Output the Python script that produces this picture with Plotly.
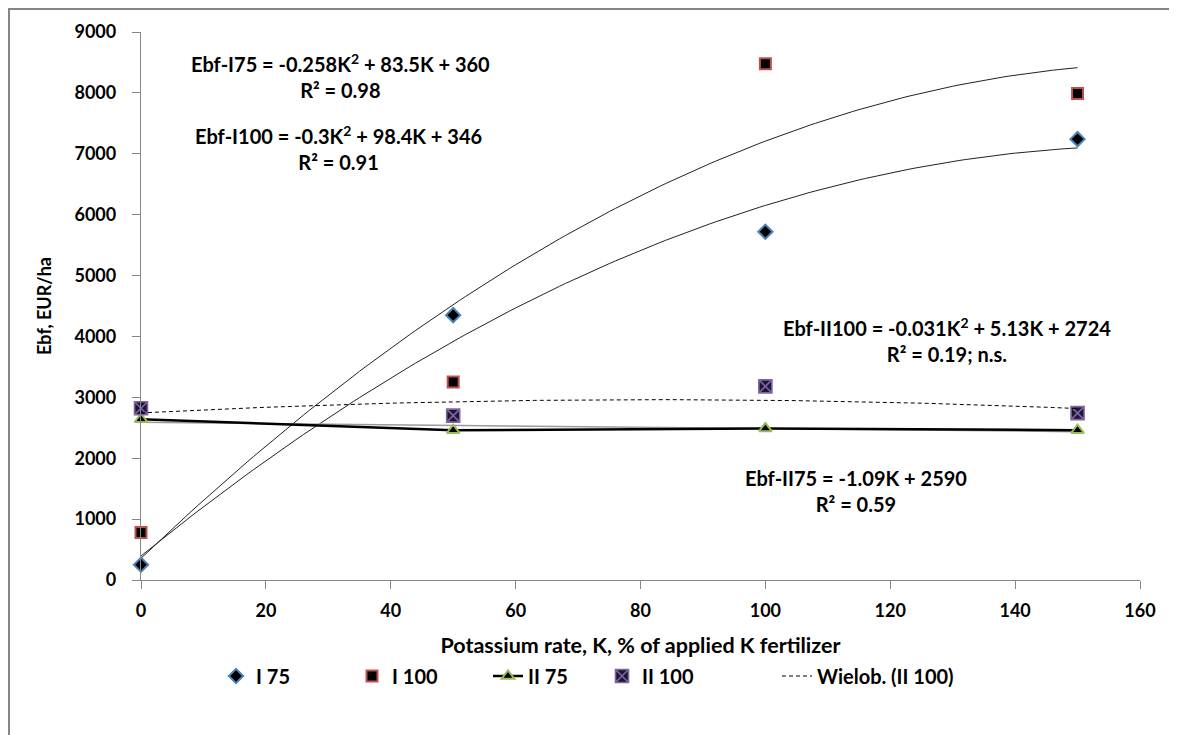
import numpy as np
import plotly.graph_objects as go

# ---- data ----
k_rates = [0, 50, 100, 150]
i75 = [250, 4350, 5720, 7240]
i100 = [780, 3250, 8480, 7990]
ii75 = [2640, 2460, 2490, 2460]
ii100 = [2820, 2700, 3180, 2740]

x_ticks = [0, 20, 40, 60, 80, 100, 120, 140, 160]
y_ticks = [0, 1000, 2000, 3000, 4000, 5000, 6000, 7000, 8000, 9000]

eq_i75 = ["Ebf-I75 = -0.258K<sup>2</sup> + 83.5K + 360", "R² = 0.98"]
eq_i100 = ["Ebf-I100 = -0.3K<sup>2</sup> + 98.4K + 346", "R² = 0.91"]
eq_ii100 = ["Ebf-II100 = -0.031K<sup>2</sup> + 5.13K + 2724", "R² = 0.19; n.s."]
eq_ii75 = ["Ebf-II75 = -1.09K + 2590", "R² = 0.59"]

FONT = "Lato"
GREY = "#868686"

# page geometry (browser body has an 8px margin)
PAGE_OFF = 8
PLOT_L, PLOT_R, PLOT_T, PLOT_B = 141, 1140, 32, 580   # plot area in page px
W, H = 1177, 735


def px_to_paper_x(px):
    return (px - PLOT_L) / (PLOT_R - PLOT_L)


def px_to_paper_y(py):
    return (PLOT_B - py) / (PLOT_B - PLOT_T)


# trend lines fitted to the data (as the spreadsheet does)
xs = np.linspace(min(k_rates), max(k_rates), 151)
fit_i75 = np.polyval(np.polyfit(k_rates, i75, 2), xs)
fit_i100 = np.polyval(np.polyfit(k_rates, i100, 2), xs)
fit_ii75 = np.polyval(np.polyfit(k_rates, ii75, 1), xs)
fit_ii100 = np.polyval(np.polyfit(k_rates, ii100, 2), xs)

fig = go.Figure()

fig.add_trace(go.Scatter(x=xs, y=fit_i75, mode="lines", line=dict(color="#222222", width=1),
                         showlegend=False, hoverinfo="skip"))
fig.add_trace(go.Scatter(x=xs, y=fit_i100, mode="lines", line=dict(color="#222222", width=1),
                         showlegend=False, hoverinfo="skip"))
fig.add_trace(go.Scatter(x=xs, y=fit_ii75, mode="lines", line=dict(color="#9a9a9a", width=1.5),
                         showlegend=False, hoverinfo="skip"))

fig.add_trace(go.Scatter(
    x=k_rates, y=i75, mode="markers", name="I 75", cliponaxis=False, legend="legend",
    marker=dict(symbol="diamond", size=11, color="black", line=dict(color="#4F81BD", width=2))))
fig.add_trace(go.Scatter(
    x=k_rates, y=i100, mode="markers", name="I 100", cliponaxis=False, legend="legend2",
    marker=dict(symbol="square", size=11, color="black", line=dict(color="#C0504D", width=2))))
fig.add_trace(go.Scatter(
    x=k_rates, y=ii75, mode="lines+markers", name="II 75", cliponaxis=False, legend="legend3",
    line=dict(color="black", width=2.5),
    marker=dict(symbol="triangle-up", size=11, color="black", line=dict(color="#9BBB59", width=2))))
fig.add_trace(go.Scatter(
    x=k_rates, y=ii100, mode="markers", name="II 100", cliponaxis=False, legend="legend4",
    marker=dict(symbol="square-x", size=13, color="#1e1630", line=dict(color="#8064A2", width=1.6))))
fig.add_trace(go.Scatter(
    x=xs, y=fit_ii100, mode="lines", name="Wielob. (II 100)", legend="legend5",
    line=dict(color="black", width=1, dash="4px,3px"), hoverinfo="skip"))

ann_font = dict(family=FONT, size=20, color="black", weight="bold")


def eq_annotation(lines, x, y):
    fig.add_annotation(x=x, y=y, xref="x", yref="y", text="<br>".join(lines),
                       showarrow=False, align="center", font=ann_font,
                       xanchor="center", yanchor="middle")


eq_annotation(eq_i75, 32.0, 8277)
eq_annotation(eq_i100, 31.6, 7095)
eq_annotation(eq_ii100, 129.1, 3942)
eq_annotation(eq_ii75, 114.5, 1462)

axis_common = dict(showline=True, linecolor=GREY, linewidth=1.3, ticks="outside",
                   tickcolor=GREY, ticklen=8, showgrid=False, zeroline=False,
                   tickfont=dict(family=FONT, size=18, color="black", weight="bold"))

legend_font = dict(family=FONT, size=20, color="black", weight="bold")
legend_y = px_to_paper_y(676)
# symbol centres of legend entries in page px
legend_centres = [236, 372, 508, 622, 797]
legends = {}
for i, cx in enumerate(legend_centres):
    key = "legend" if i == 0 else f"legend{i + 1}"
    legends[key] = dict(orientation="h", x=px_to_paper_x(cx - 20), xanchor="left",
                        y=legend_y, yanchor="middle", font=legend_font,
                        bgcolor="rgba(0,0,0,0)", borderwidth=0)

fig.update_layout(
    width=W, height=H,
    margin=dict(l=PLOT_L - PAGE_OFF, r=W - (PLOT_R - PAGE_OFF),
                t=PLOT_T - PAGE_OFF, b=H - (PLOT_B - PAGE_OFF)),
    paper_bgcolor="white", plot_bgcolor="white",
    xaxis=dict(range=[0, 160], tickvals=x_ticks, ticklabelstandoff=6,
               title=dict(text="Potassium rate, K, % of applied K fertilizer", standoff=18,
                          font=dict(family=FONT, size=21.5, color="black", weight="bold")),
               **axis_common),
    yaxis=dict(range=[0, 9000], tickvals=y_ticks, ticklabelstandoff=12,
               title=dict(text="Ebf, EUR/ha", standoff=18,
                          font=dict(family=FONT, size=18, color="black", weight="bold")),
               **axis_common),
    shapes=[dict(type="rect", xref="paper", yref="paper",
                 x0=px_to_paper_x(PAGE_OFF + 1), x1=px_to_paper_x(1176),
                 y0=px_to_paper_y(760), y1=px_to_paper_y(PAGE_OFF + 1),
                 line=dict(color=GREY, width=2), fillcolor="rgba(0,0,0,0)", layer="below")],
    **legends,
)

fig.write_html("out.html")
